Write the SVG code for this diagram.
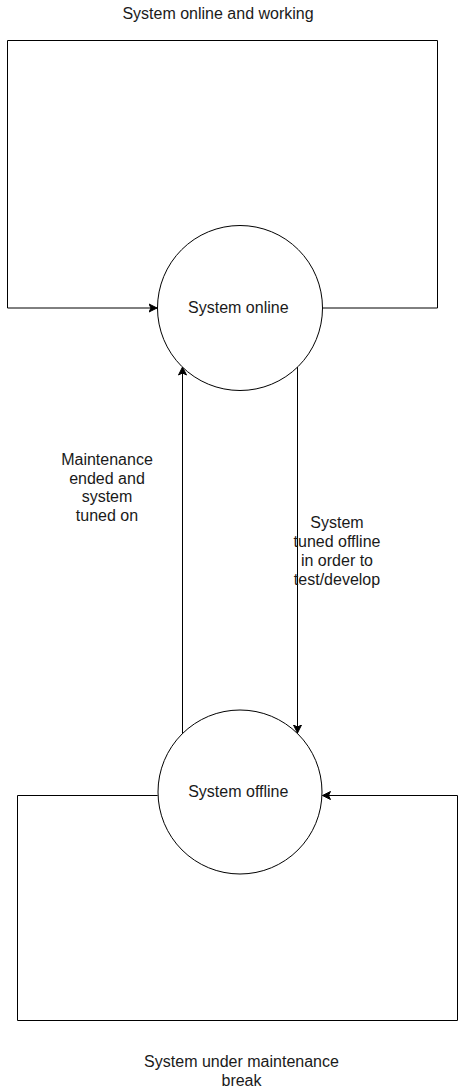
<svg xmlns="http://www.w3.org/2000/svg" width="468" height="1092" viewBox="0 0 468 1092">
<style>
.ln{fill:none;stroke:#000;stroke-width:1}
.nd{fill:#fff;stroke:#000;stroke-width:1}
text{font-family:"Liberation Sans",Arial,sans-serif;font-size:16px;fill:#1a1a1a;text-anchor:middle}
</style>
<defs>
<marker id="arr" markerUnits="userSpaceOnUse" markerWidth="10" markerHeight="10" viewBox="0 0 10 10" refX="8.5" refY="5" orient="auto">
<path d="M0.5,1 L8.5,5 L0.5,9 L2.5,5 Z" fill="#000" stroke="#000" stroke-width="1"/>
</marker>
</defs>
<rect width="468" height="1092" fill="#fff"/>
<g id="connectors">
<path class="ln" d="M322.7,308 H437.5 V40.5 H7.5 V308 H157" marker-end="url(#arr)"/>
<path class="ln" d="M157.7,795.5 H17.5 V1020.5 H457.5 V795.5 H322.5" marker-end="url(#arr)"/>
<path class="ln" d="M182.5,733.5 V367" marker-end="url(#arr)"/>
<path class="ln" d="M297.5,367 V733" marker-end="url(#arr)"/>
</g>
<g id="label-online-working"><text x="218" y="18.5">System online and working</text></g>
<g id="label-maintenance-break"><text x="241.5" y="1067">System under maintenance</text><text x="241.5" y="1085.5">break</text></g>
<g id="node-online">
<circle class="nd" cx="240" cy="308" r="82.5"/>
<text x="238.3" y="313">System online</text>
</g>
<g id="node-offline">
<circle class="nd" cx="240" cy="792" r="82"/>
<text x="238.3" y="797">System offline</text>
</g>
<g id="label-ended">
<text x="107" y="465">Maintenance</text>
<text x="107" y="483.5">ended and</text>
<text x="107" y="502">system</text>
<text x="107" y="521">tuned on</text>
</g>
<g id="label-offline">
<text x="337" y="528">System</text>
<text x="337" y="547">tuned offline</text>
<text x="337" y="566">in order to</text>
<text x="337" y="585">test/develop</text>
</g>
</svg>
